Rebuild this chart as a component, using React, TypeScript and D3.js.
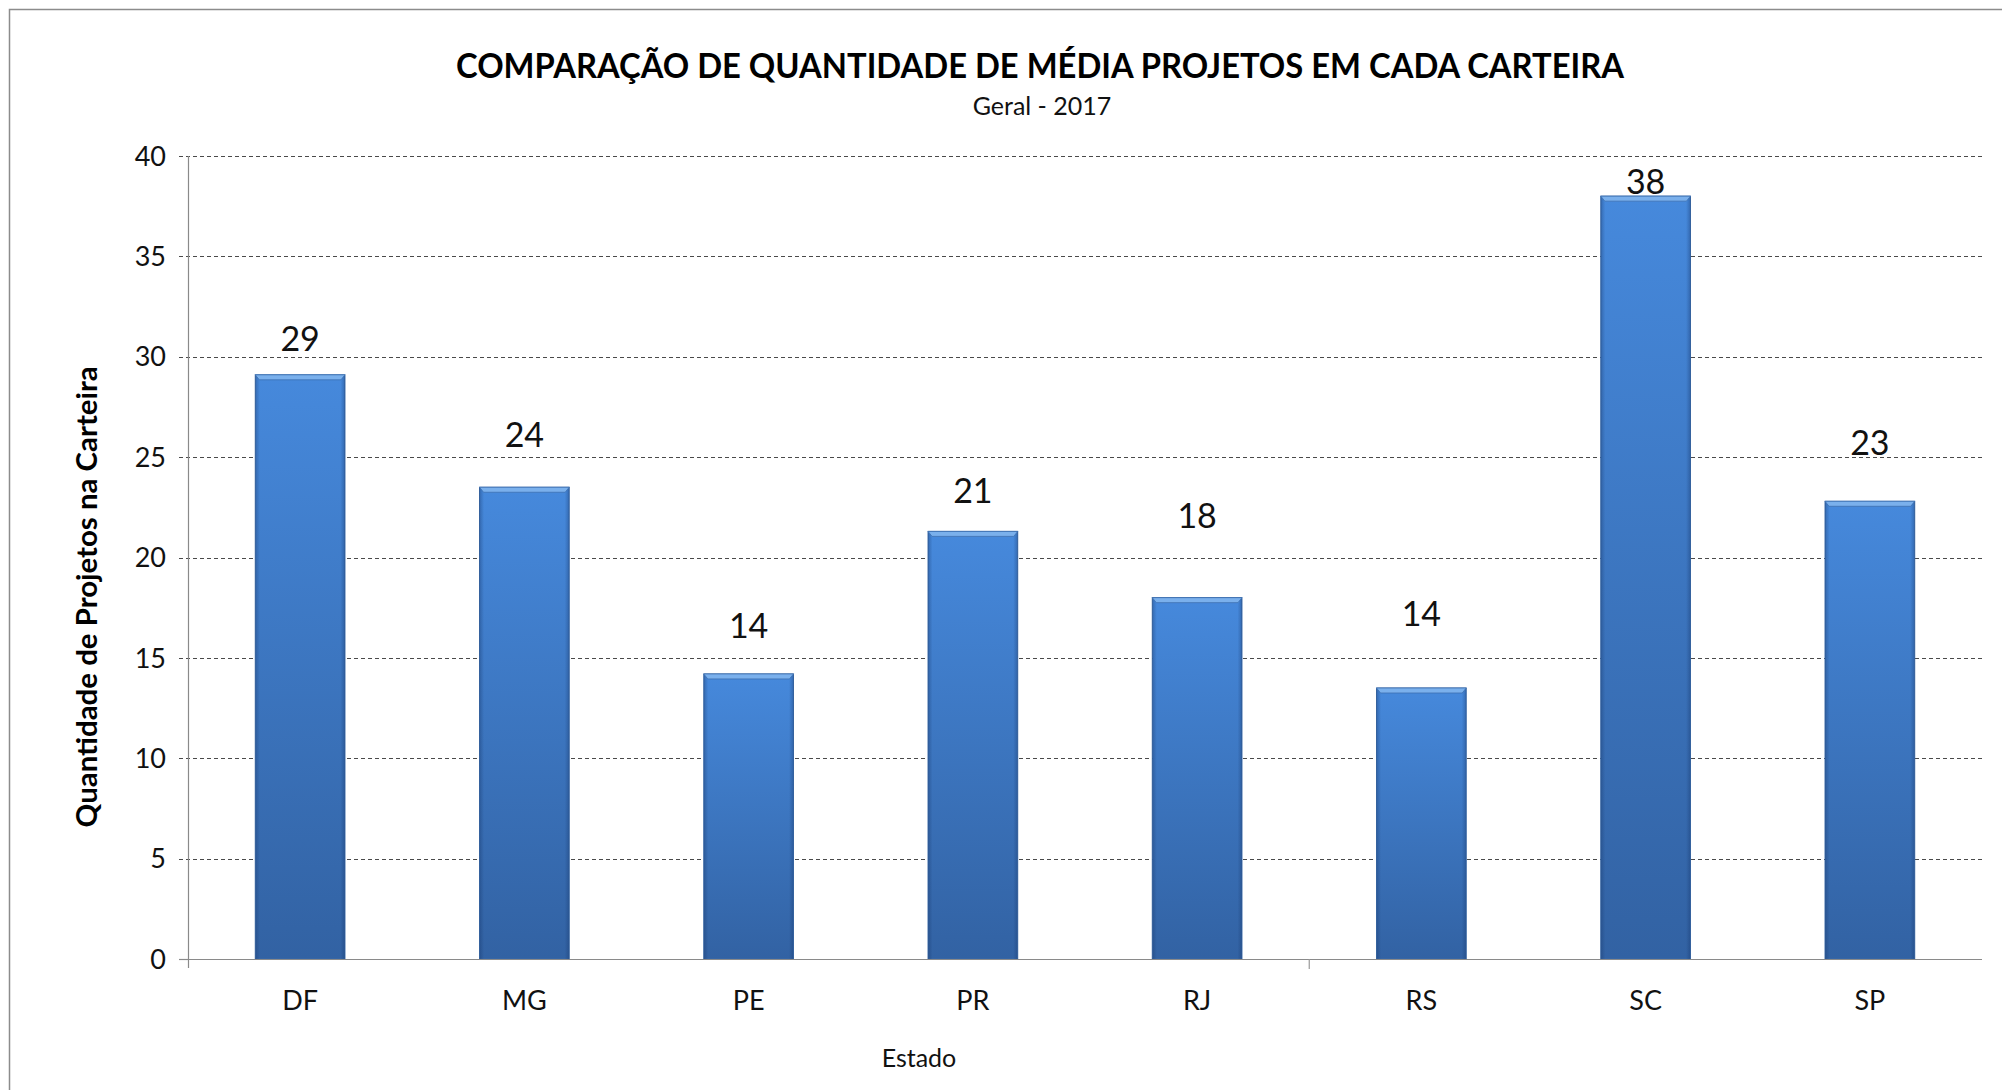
import React, { useEffect, useRef } from 'react';
import * as d3 from 'd3';

// Values
const estados = ['DF', 'MG', 'PE', 'PR', 'RJ', 'RS', 'SC', 'SP'];
const mediaProjetos = [29.1, 23.5, 14.2, 21.3, 18.0, 13.5, 38.0, 22.8];
const rotulos = ['29', '24', '14', '21', '18', '14', '38', '23'];
// labels were hand-moved in the original, lift above bar top (in data units)
const labelLift = [1.8, 2.6, 2.4, 2.0, 4.1, 3.7, 0.7, 2.9];
const yTicks = [0, 5, 10, 15, 20, 25, 30, 35, 40];

const titulo = 'COMPARAÇÃO DE QUANTIDADE DE MÉDIA PROJETOS EM CADA CARTEIRA';
const subtitulo = 'Geral - 2017';
const eixoY = 'Quantidade de Projetos na Carteira';
const eixoX = 'Estado';

const App = () => {
  const svgRef = useRef<SVGSVGElement>(null);

  useEffect(() => {
    const W = 2002, H = 1090;
    const svg = d3.select(svgRef.current);
    svg.selectAll('*').remove();
    svg.attr('width', W).attr('height', H);

    const font = 'Lato, "Open Sans", sans-serif';
    const left = 188, right = 1982, top = 156, bottom = 959;

    // chart frame
    svg.append('rect')
      .attr('x', 0).attr('y', 0).attr('width', W).attr('height', H)
      .attr('fill', '#fff');
    svg.append('rect')
      .attr('x', 9.5).attr('y', 9.5).attr('width', W + 20).attr('height', H + 20)
      .attr('fill', 'none').attr('stroke', '#8c8c8c').attr('stroke-width', 1.5);

    const x = d3.scaleBand()
      .domain(estados)
      .range([left, right])
      .paddingInner(0.6)
      .paddingOuter(0.3);

    const y = d3.scaleLinear().domain([0, 40]).range([bottom, top]);

    const defs = svg.append('defs');
    const grad = defs.append('linearGradient')
      .attr('id', 'barFill')
      .attr('x1', 0).attr('y1', 0).attr('x2', 0).attr('y2', 1);
    grad.append('stop').attr('offset', '0%').attr('stop-color', '#4689dc');
    grad.append('stop').attr('offset', '100%').attr('stop-color', '#3262a3');

    const edge = defs.append('linearGradient')
      .attr('id', 'barEdge')
      .attr('x1', 0).attr('y1', 0).attr('x2', 1).attr('y2', 0);
    edge.append('stop').attr('offset', '0%').attr('stop-color', 'rgba(20,50,100,0.35)');
    edge.append('stop').attr('offset', '5%').attr('stop-color', 'rgba(20,50,100,0)');
    edge.append('stop').attr('offset', '95%').attr('stop-color', 'rgba(20,50,100,0)');
    edge.append('stop').attr('offset', '100%').attr('stop-color', 'rgba(20,50,100,0.35)');

    // gridlines
    const g = svg.append('g');
    g.selectAll('.grid')
      .data(yTicks.filter(d => d > 0))
      .enter()
      .append('line')
      .attr('x1', left - 9).attr('x2', right)
      .attr('y1', d => Math.round(y(d)) + 0.5)
      .attr('y2', d => Math.round(y(d)) + 0.5)
      .attr('stroke', '#4a4a4a')
      .attr('stroke-width', 1)
      .attr('stroke-dasharray', '4,3');

    // y tick labels
    g.selectAll('.ytick')
      .data(yTicks)
      .enter()
      .append('text')
      .attr('x', left - 22)
      .attr('y', d => y(d))
      .attr('dy', '0.36em')
      .attr('text-anchor', 'end')
      .attr('font-family', font)
      .attr('font-size', 27)
      .attr('fill', '#111')
      .text(d => d);

    // bars
    const bars = g.selectAll('.bar')
      .data(estados)
      .enter()
      .append('g');

    bars.append('rect')
      .attr('x', d => x(d))
      .attr('y', (d, i) => y(mediaProjetos[i]))
      .attr('width', x.bandwidth())
      .attr('height', (d, i) => bottom - y(mediaProjetos[i]))
      .attr('fill', 'url(#barFill)')
      .attr('stroke', '#3a6aa8')
      .attr('stroke-width', 1);

    bars.append('rect')
      .attr('x', d => x(d))
      .attr('y', (d, i) => y(mediaProjetos[i]))
      .attr('width', x.bandwidth())
      .attr('height', (d, i) => bottom - y(mediaProjetos[i]))
      .attr('fill', 'url(#barEdge)');

    // top bevel
    bars.append('path')
      .attr('d', (d, i) => {
        const x0 = x(d), x1 = x0 + x.bandwidth(), t = y(mediaProjetos[i]);
        return `M${x0},${t} L${x1},${t} L${x1 - 4},${t + 5} L${x0 + 4},${t + 5} Z`;
      })
      .attr('fill', '#7ab0ec')
      .attr('stroke', '#3d70b0')
      .attr('stroke-width', 0.8);

    // value labels
    g.selectAll('.valor')
      .data(estados)
      .enter()
      .append('text')
      .attr('x', d => x(d) + x.bandwidth() / 2)
      .attr('y', (d, i) => y(mediaProjetos[i] + labelLift[i]))
      .attr('dy', '0.36em')
      .attr('text-anchor', 'middle')
      .attr('font-family', font)
      .attr('font-size', 34)
      .attr('fill', '#111')
      .text((d, i) => rotulos[i]);

    // axes lines
    g.append('line')
      .attr('x1', left + 0.5).attr('x2', left + 0.5)
      .attr('y1', top).attr('y2', bottom + 9)
      .attr('stroke', '#8a8a8a').attr('stroke-width', 1.2);
    g.append('line')
      .attr('x1', left).attr('x2', right)
      .attr('y1', bottom + 0.5).attr('y2', bottom + 0.5)
      .attr('stroke', '#8a8a8a').attr('stroke-width', 1.2);
    g.append('line')
      .attr('x1', left - 9).attr('x2', left)
      .attr('y1', bottom + 0.5).attr('y2', bottom + 0.5)
      .attr('stroke', '#8a8a8a').attr('stroke-width', 1.2);
    // single category tick between RJ and RS
    const tickX = x('RS') - x.step() * x.paddingInner() / 2;
    g.append('line')
      .attr('x1', tickX).attr('x2', tickX)
      .attr('y1', bottom).attr('y2', bottom + 10)
      .attr('stroke', '#9a9a9a').attr('stroke-width', 1.2);

    // category labels
    g.selectAll('.cat')
      .data(estados)
      .enter()
      .append('text')
      .attr('x', d => x(d) + x.bandwidth() / 2)
      .attr('y', 1000)
      .attr('dy', '0.36em')
      .attr('text-anchor', 'middle')
      .attr('font-family', font)
      .attr('font-size', 27)
      .attr('fill', '#111')
      .text(d => d);

    // titles
    svg.append('text')
      .attr('x', 1040).attr('y', 66).attr('dy', '0.36em')
      .attr('text-anchor', 'middle')
      .attr('font-family', font)
      .attr('font-size', 34)
      .attr('font-weight', 'bold')
      .attr('fill', '#000')
      .attr('textLength', 1168)
      .attr('lengthAdjust', 'spacingAndGlyphs')
      .text(titulo);

    svg.append('text')
      .attr('x', 1042).attr('y', 106).attr('dy', '0.36em')
      .attr('text-anchor', 'middle')
      .attr('font-family', font)
      .attr('font-size', 25)
      .attr('fill', '#111')
      .text(subtitulo);

    svg.append('text')
      .attr('transform', `translate(87, ${(287 + 648) / 2 * 1.2768}) rotate(-90)`)
      .attr('dy', '0.36em')
      .attr('text-anchor', 'middle')
      .attr('font-family', font)
      .attr('font-size', 29)
      .attr('font-weight', 'bold')
      .attr('fill', '#000')
      .attr('textLength', 461)
      .attr('lengthAdjust', 'spacingAndGlyphs')
      .text(eixoY);

    svg.append('text')
      .attr('x', 919).attr('y', 1058).attr('dy', '0.36em')
      .attr('text-anchor', 'middle')
      .attr('font-family', font)
      .attr('font-size', 25)
      .attr('fill', '#111')
      .text(eixoX);
  }, []);

  return (
    <svg ref={svgRef} style={{ position: 'absolute', left: 0, top: 0, display: 'block' }}></svg>
  );
};

export default App;
